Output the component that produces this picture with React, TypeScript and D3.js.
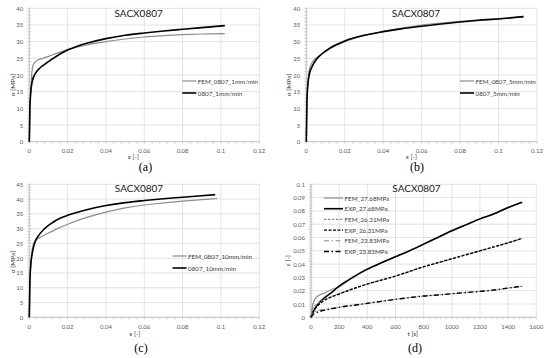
import React from 'react';
import * as d3 from 'd3';

// (a) 1 mm/min
const epsFemA = [0, 0.0005, 0.001, 0.002, 0.004, 0.007, 0.012, 0.02, 0.03, 0.04, 0.05, 0.06, 0.07, 0.08, 0.09, 0.102];
const sigFemA = [0, 12, 18, 23, 24.3, 25, 26, 27.6, 29, 30, 30.8, 31.4, 31.8, 32.1, 32.3, 32.4];
const epsExpA = [0, 0.0003, 0.0008, 0.0015, 0.003, 0.005, 0.008, 0.012, 0.016, 0.02, 0.025, 0.03, 0.04, 0.05, 0.06, 0.07, 0.08, 0.09, 0.102];
const sigExpA = [0, 10, 15, 18, 20.3, 21.8, 23.2, 24.8, 26.3, 27.5, 28.6, 29.5, 30.9, 31.9, 32.6, 33.2, 33.7, 34.2, 34.8];

// (b) 5 mm/min
const epsFemB = [0, 0.0005, 0.001, 0.002, 0.004, 0.007, 0.01, 0.015, 0.02, 0.03, 0.04, 0.05, 0.06, 0.07, 0.08, 0.09, 0.1, 0.113];
const sigFemB = [0, 14, 19, 22.5, 24.5, 25.8, 27, 28.7, 30, 31.8, 33.1, 34.1, 35, 35.6, 36.1, 36.5, 36.9, 37.4];
const epsExpB = [0, 0.0003, 0.0008, 0.0015, 0.003, 0.005, 0.008, 0.012, 0.02, 0.03, 0.04, 0.05, 0.06, 0.07, 0.08, 0.09, 0.1, 0.113];
const sigExpB = [0, 12, 17, 20, 22.5, 24.5, 26.3, 28, 30.2, 31.9, 33, 33.9, 34.6, 35.3, 35.9, 36.4, 36.8, 37.5];

// (c) 10 mm/min
const epsFemC = [0, 0.0005, 0.001, 0.002, 0.003, 0.005, 0.01, 0.015, 0.02, 0.03, 0.04, 0.05, 0.06, 0.07, 0.08, 0.09, 0.098];
const sigFemC = [0, 14, 20, 24.5, 25.8, 26.8, 28.5, 30.1, 31.5, 33.8, 35.6, 37, 38, 38.7, 39.3, 39.8, 40.2];
const epsExpC = [0, 0.0003, 0.0008, 0.0015, 0.003, 0.005, 0.008, 0.012, 0.016, 0.02, 0.03, 0.04, 0.05, 0.06, 0.07, 0.08, 0.09, 0.097];
const sigExpC = [0, 12, 18, 21.5, 25.5, 27.8, 30, 32, 33.5, 34.5, 36.4, 37.8, 38.8, 39.5, 40.1, 40.6, 41.1, 41.5];

// (d) creep
const timeD = [0, 10, 25, 50, 100, 150, 200, 300, 400, 500, 600, 700, 800, 900, 1000, 1100, 1200, 1300, 1400, 1500];
const fem2768 = [0, 0.008, 0.013, 0.016, 0.0185, 0.021, 0.023, 0.0302, 0.0362, 0.041, 0.0455, 0.05, 0.055, 0.06, 0.065, 0.0695, 0.074, 0.0778, 0.0825, 0.0865];
const exp2768 = [0, 0.003, 0.006, 0.01, 0.015, 0.019, 0.0235, 0.0302, 0.0362, 0.041, 0.0455, 0.05, 0.055, 0.06, 0.065, 0.0695, 0.074, 0.0778, 0.0825, 0.0865];
const fem2631 = [0, 0.006, 0.0085, 0.0105, 0.0135, 0.0158, 0.0178, 0.0215, 0.025, 0.028, 0.031, 0.0345, 0.038, 0.041, 0.044, 0.047, 0.05, 0.053, 0.056, 0.0594];
const exp2631 = [0, 0.003, 0.006, 0.009, 0.013, 0.0155, 0.0175, 0.0215, 0.025, 0.028, 0.031, 0.0345, 0.038, 0.041, 0.044, 0.047, 0.05, 0.053, 0.056, 0.0594];
const fem2383 = [0, 0.0035, 0.0045, 0.0052, 0.006, 0.0068, 0.0077, 0.009, 0.0105, 0.012, 0.0135, 0.0148, 0.016, 0.0168, 0.0177, 0.0186, 0.0195, 0.0205, 0.022, 0.0233];
const exp2383 = [0, 0.0015, 0.003, 0.004, 0.0055, 0.0065, 0.0075, 0.009, 0.0105, 0.012, 0.0135, 0.0148, 0.016, 0.0168, 0.0177, 0.0186, 0.0195, 0.0205, 0.022, 0.0233];

const strainTicks = [0, 0.02, 0.04, 0.06, 0.08, 0.1, 0.12];
const stressTicks40 = [0, 5, 10, 15, 20, 25, 30, 35, 40];
const stressTicks45 = [0, 5, 10, 15, 20, 25, 30, 35, 40, 45];
const timeTicks = [0, 200, 400, 600, 800, 1000, 1200, 1400, 1600];
const creepTicks = [0, 0.01, 0.02, 0.03, 0.04, 0.05, 0.06, 0.07, 0.08, 0.09, 0.1];

const FONT = 'Lato, "Open Sans", sans-serif';
const GRAY = '#8c8c8c';
const BLACK = '#000';

type Series = { x: number[]; y: number[]; label: string; color: string; w: number; dash?: string };

type PanelProps = {
  box: [number, number, number, number]; // left, top, right, bottom
  xDomain: [number, number];
  yDomain: [number, number];
  xTicks: number[];
  yTicks: number[];
  xMinor: number;
  yMinor: number;
  series: Series[];
  legend: { x: number; y: number; gap: number; len: number };
  title: [number, number];
  xTitle: { text: string; x: number; y: number };
  yTitle: { text: string; x: number; y: number };
  tag: { text: string; x: number; y: number };
};

function Panel(p: PanelProps) {
  const [l, t, r, b] = p.box;
  const x = d3.scaleLinear().domain(p.xDomain).range([l, r]);
  const y = d3.scaleLinear().domain(p.yDomain).range([b, t]);
  const line = d3.line<[number, number]>().x(d => x(d[0])).y(d => y(d[1])).curve(d3.curveMonotoneX);
  const xMinorTicks = d3.range(p.xDomain[0], p.xDomain[1] + 1e-9, p.xMinor);
  const yMinorTicks = d3.range(p.yDomain[0], p.yDomain[1] + 1e-9, p.yMinor);
  return (
    <g>
      {p.xTicks.map(v => (
        <line key={'gx' + v} x1={x(v)} x2={x(v)} y1={t} y2={b} stroke="#dcdcdc" strokeWidth={0.8} />
      ))}
      {p.yTicks.map(v => (
        <line key={'gy' + v} x1={l} x2={r} y1={y(v)} y2={y(v)} stroke="#dcdcdc" strokeWidth={0.8} />
      ))}
      <line x1={l} x2={l} y1={t} y2={b} stroke="#bfbfbf" strokeWidth={0.8} />
      <line x1={l} x2={r} y1={b} y2={b} stroke="#bfbfbf" strokeWidth={0.8} />
      {xMinorTicks.map((v, i) => (
        <line key={'mx' + i} x1={x(v)} x2={x(v)} y1={b} y2={b + 2} stroke="#bfbfbf" strokeWidth={0.7} />
      ))}
      {yMinorTicks.map((v, i) => (
        <line key={'my' + i} x1={l - 2} x2={l + 1.5} y1={y(v)} y2={y(v)} stroke="#bfbfbf" strokeWidth={0.7} />
      ))}
      {p.xTicks.map(v => (
        <text key={'tx' + v} x={x(v)} y={b + 9} fontSize={6} fill="#595959" textAnchor="middle" dominantBaseline="central" fontFamily={FONT}>
          {String(v)}
        </text>
      ))}
      {p.yTicks.map(v => (
        <text key={'ty' + v} x={l - 6} y={y(v)} fontSize={6} fill="#595959" textAnchor="end" dominantBaseline="central" fontFamily={FONT}>
          {String(v)}
        </text>
      ))}
      {p.series.map(s => (
        <path
          key={s.label}
          d={line(s.x.map((v, i) => [v, s.y[i]] as [number, number])) || ''}
          fill="none"
          stroke={s.color}
          strokeWidth={s.w}
          strokeDasharray={s.dash}
          strokeLinejoin="round"
        />
      ))}
      {p.series.map((s, i) => {
        const ly = p.legend.y + i * p.legend.gap;
        return (
          <g key={'lg' + s.label}>
            <line x1={p.legend.x} x2={p.legend.x + p.legend.len} y1={ly} y2={ly} stroke={s.color} strokeWidth={s.w} strokeDasharray={s.dash} />
            <text x={p.legend.x + p.legend.len + 1.5} y={ly} fontSize={6.3} fill="#404040" dominantBaseline="central" fontFamily={FONT}>
              {s.label}
            </text>
          </g>
        );
      })}
      <text x={p.title[0]} y={p.title[1]} fontSize={10} textAnchor="middle" dominantBaseline="central" fontFamily={FONT} fill="#1a1a1a">
        SACX0807
      </text>
      <text x={p.xTitle.x} y={p.xTitle.y} fontSize={6.5} textAnchor="middle" dominantBaseline="central" fontFamily={FONT} fill="#404040">
        {p.xTitle.text}
      </text>
      <text
        transform={`translate(${p.yTitle.x},${p.yTitle.y}) rotate(-90)`}
        fontSize={6.5}
        textAnchor="middle"
        dominantBaseline="central"
        fontFamily={FONT}
        fill="#404040"
      >
        {p.yTitle.text}
      </text>
      <text x={p.tag.x} y={p.tag.y} fontSize={12} textAnchor="middle" dominantBaseline="central" fontFamily='"Liberation Serif", serif' fill="#000">
        {p.tag.text}
      </text>
    </g>
  );
}

export default function App() {
  return (
    <svg width={550} height={358} style={{ position: 'absolute', left: 0, top: 0, background: '#fff' }}>
      <Panel
        box={[29.3, 8.3, 259.3, 141.7]}
        xDomain={[0, 0.12]}
        yDomain={[0, 40]}
        xTicks={strainTicks}
        yTicks={stressTicks40}
        xMinor={0.004}
        yMinor={1}
        series={[
          { x: epsFemA, y: sigFemA, label: 'FEM_0807_1mm/min', color: GRAY, w: 1.2 },
          { x: epsExpA, y: sigExpA, label: '0807_1mm/min', color: BLACK, w: 1.6 },
        ]}
        legend={{ x: 182.3, y: 81, gap: 12, len: 14 }}
        title={[138.7, 13.3]}
        xTitle={{ text: 'ε [-]', x: 133.5, y: 156 }}
        yTitle={{ text: 'σ [MPa]', x: 12, y: 85 }}
        tag={{ text: '(a)', x: 145.5, y: 167 }}
      />
      <Panel
        box={[306.3, 8.3, 537, 141.7]}
        xDomain={[0, 0.12]}
        yDomain={[0, 40]}
        xTicks={strainTicks}
        yTicks={stressTicks40}
        xMinor={0.004}
        yMinor={1}
        series={[
          { x: epsFemB, y: sigFemB, label: 'FEM_0807_5mm/min', color: GRAY, w: 1.2 },
          { x: epsExpB, y: sigExpB, label: '0807_5mm/min', color: BLACK, w: 1.6 },
        ]}
        legend={{ x: 460, y: 81, gap: 12, len: 14 }}
        title={[416, 13.3]}
        xTitle={{ text: 'ε [-]', x: 411.5, y: 156 }}
        yTitle={{ text: 'σ [MPa]', x: 288.3, y: 85 }}
        tag={{ text: '(b)', x: 417, y: 167 }}
      />
      <Panel
        box={[29.3, 184.3, 259.3, 317.3]}
        xDomain={[0, 0.12]}
        yDomain={[0, 45]}
        xTicks={strainTicks}
        yTicks={stressTicks45}
        xMinor={0.004}
        yMinor={1}
        series={[
          { x: epsFemC, y: sigFemC, label: 'FEM_0807_10mm/min', color: GRAY, w: 1.2 },
          { x: epsExpC, y: sigExpC, label: '0807_10mm/min', color: BLACK, w: 1.6 },
        ]}
        legend={{ x: 172.5, y: 256, gap: 12, len: 14 }}
        title={[139, 188.3]}
        xTitle={{ text: 'ε [-]', x: 135, y: 333.7 }}
        yTitle={{ text: 'σ [MPa]', x: 12, y: 262 }}
        tag={{ text: '(c)', x: 141, y: 348 }}
      />
      <Panel
        box={[311, 184.3, 536.3, 317.3]}
        xDomain={[0, 1600]}
        yDomain={[0, 0.1]}
        xTicks={timeTicks}
        yTicks={creepTicks}
        xMinor={40}
        yMinor={0.002}
        series={[
          { x: timeD, y: fem2768, label: 'FEM_27.68MPa', color: GRAY, w: 1.2 },
          { x: timeD, y: exp2768, label: 'EXP_27.68MPa', color: BLACK, w: 1.6 },
          { x: timeD, y: fem2631, label: 'FEM_26.31MPa', color: GRAY, w: 1.1, dash: '2.5,1.5' },
          { x: timeD, y: exp2631, label: 'EXP_26.31MPa', color: BLACK, w: 1.4, dash: '3,1.5' },
          { x: timeD, y: fem2383, label: 'FEM_23.83MPa', color: GRAY, w: 1.1, dash: '5,2.5,1.5,2.5' },
          { x: timeD, y: exp2383, label: 'EXP_23.83MPa', color: BLACK, w: 1.4, dash: '5,2.5,1.5,2.5' },
        ]}
        legend={{ x: 324, y: 198, gap: 10.7, len: 19 }}
        title={[416.5, 188.3]}
        xTitle={{ text: 't [s]', x: 412.7, y: 333.7 }}
        yTitle={{ text: 'ε [-]', x: 287.7, y: 260.7 }}
        tag={{ text: '(d)', x: 415, y: 348 }}
      />
    </svg>
  );
}
